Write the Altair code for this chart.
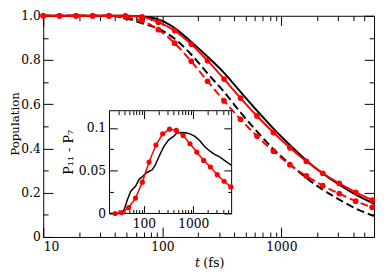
import altair as alt
import pandas as pd

# ---------------- data ----------------
t_red = [10, 13.7, 18.9, 26, 35.7, 49, 67.4, 92.6, 127, 175, 240, 330, 454, 624, 858,
         1179, 1620, 2227, 3061, 4207, 5781]
red_solid = [1.0, 1.0, 1.0, 1.0, 1.0, 1.0, 0.995, 0.971, 0.933, 0.872, 0.797, 0.714, 0.628,
             0.547, 0.472, 0.403, 0.342, 0.288, 0.242, 0.202, 0.167]
red_dashed = [1.0, 1.0, 1.0, 1.0, 1.0, 0.994, 0.977, 0.937, 0.876, 0.794, 0.704, 0.615, 0.532,
              0.456, 0.388, 0.327, 0.276, 0.232, 0.196, 0.162, 0.134]
t_black = [10, 13.7, 18.9, 26, 35.7, 49, 67.4, 92.6, 127, 175, 240, 330, 454, 624, 858,
           1179, 1620, 2227, 3061, 4207, 6000]
black_solid = [1.0, 1.0, 1.0, 1.0, 1.0, 1.0, 0.997, 0.984, 0.945, 0.882, 0.815, 0.742, 0.656,
               0.571, 0.490, 0.416, 0.346, 0.287, 0.236, 0.191, 0.150]
black_dashed = [1.0, 1.0, 1.0, 1.0, 1.0, 0.99, 0.966, 0.941, 0.896, 0.825, 0.739, 0.656, 0.563,
                0.477, 0.397, 0.329, 0.267, 0.214, 0.169, 0.129, 0.094]

t_inset_red = [26, 35.7, 49, 67.4, 92.6, 127, 175, 240, 330, 454, 624, 858, 1179, 1620,
               2227, 3061, 4207, 5781]
inset_red = [0.0, 0.001, 0.007, 0.018, 0.0366, 0.060, 0.080, 0.093, 0.0985, 0.097, 0.091,
             0.0814, 0.0717, 0.062, 0.0543, 0.0453, 0.0376, 0.031]
t_inset_black = [20, 35, 40, 46, 54, 68, 80, 93, 108, 126, 147, 171, 200, 252, 317, 399, 465,
                 585, 736, 858, 1080, 1359, 1710, 2153, 2710, 3412, 4295, 6000]
inset_black = [0, 0, 0.005, 0.016, 0.026, 0.032, 0.040, 0.043, 0.047, 0.049, 0.051, 0.057,
               0.066, 0.078, 0.086, 0.090, 0.094, 0.0945, 0.094, 0.093, 0.090, 0.085, 0.078,
               0.073, 0.069, 0.066, 0.062, 0.056]

main_x_major = [10, 100, 1000]
main_x_minor = [20, 30, 40, 50, 60, 70, 80, 90, 200, 300, 400, 500, 600, 700, 800, 900,
                2000, 3000, 4000, 5000]
main_y_major = [0, 0.2, 0.4, 0.6, 0.8, 1.0]
main_y_minor = [0.1, 0.3, 0.5, 0.7, 0.9]
inset_x_major = [100, 1000]
inset_x_minor = [30, 40, 50, 60, 70, 80, 90, 200, 300, 400, 500, 600, 700, 800, 900,
                 2000, 3000, 4000, 5000]
inset_y_major = [0, 0.05, 0.1]
inset_y_minor = [0.025, 0.075]
inset_frame = {"x": [20], "x2": [6000], "y": [0], "y2": [0.12]}

FONT = "DejaVu Serif"
LBL = 12.5
TTL = 13
W, H = 338, 226
RED = "#ff0000"

main_x = alt.Scale(type="log", domain=[10, 6000], nice=False)
main_y = alt.Scale(domain=[0, 1], nice=False)
ins_x = alt.Scale(type="log", domain=[20, 6000], nice=False, range=[67.7, 192.5])
ins_y = alt.Scale(domain=[0, 0.12], nice=False, range=[202, 97])


def axis(orient, values, size, offset, **kw):
    return alt.Axis(orient=orient, values=values, tickSize=size, offset=offset,
                    domain=False, grid=False, ticks=True, tickColor="black",
                    tickWidth=1, **kw)


YLAB = "datum.value == 0 ? '0' : format(datum.value, '.1f')"

# main axes
mx_bmaj = axis("bottom", main_x_major, 10, -10, labels=True, format="d", labelPadding=4)
mx_bmin = axis("bottom", main_x_minor, 5, -5, labels=False)
mx_tmaj = axis("top", main_x_major, 10, -10, labels=False)
mx_tmin = axis("top", main_x_minor, 5, -5, labels=False)
my_lmaj = axis("left", main_y_major, 10, -10, labels=True, labelExpr=YLAB,
               labelPadding=3, titleX=-39.5, titleY=110, titleAngle=270,
               titleBaseline="middle", titleAlign="center", titleFontSize=12)
my_lmin = axis("left", main_y_minor, 5, -5, labels=False)
my_rmaj = axis("right", main_y_major, 10, -10, labels=False)
my_rmin = axis("right", main_y_minor, 5, -5, labels=False)

# inset axes
ix_bmaj = axis("bottom", inset_x_major, 8, -32, labels=True, format="d", labelPadding=4)
ix_bmin = axis("bottom", inset_x_minor, 4, -28, labels=False)
ix_tmaj = axis("top", inset_x_major, 8, -105, labels=False)
ix_tmin = axis("top", inset_x_minor, 4, -101, labels=False)
iy_lmaj = axis("left", inset_y_major, 8, -75.7, labels=True,
               labelExpr="format(datum.value, '~g')", labelPadding=4,
               titleX=-50, titleY=139, titleAngle=270, titleBaseline="middle",
               titleAlign="center")
iy_lmin = axis("left", inset_y_minor, 4, -71.7, labels=False)
iy_rmaj = axis("right", inset_y_major, 8, -153.5, labels=False)
iy_rmin = axis("right", inset_y_minor, 4, -149.5, labels=False)

df_bs = pd.DataFrame({"t": t_black, "p": black_solid})
df_bd = pd.DataFrame({"t": t_black, "p": black_dashed})
df_rs = pd.DataFrame({"t": t_red, "p": red_solid})
df_rd = pd.DataFrame({"t": t_red, "p": red_dashed})
df_ir = pd.DataFrame({"t": t_inset_red, "p": inset_red})
df_ib = pd.DataFrame({"t": t_inset_black, "p": inset_black})
df_fr = pd.DataFrame(inset_frame)


def MX(ax):
    return alt.X("t:Q", scale=main_x, axis=ax, title=None)


def MY(ax, title=None):
    return alt.Y("p:Q", scale=main_y, axis=ax, title=title)


bs = alt.Chart(df_bs).mark_line(color="black", strokeWidth=2, interpolate="monotone").encode(
    x=MX(mx_bmaj), y=MY(my_lmaj, "Population"))
bd = alt.Chart(df_bd).mark_line(color="black", strokeWidth=2, interpolate="monotone",
                                strokeDash=[8, 4]).encode(x=MX(mx_bmin), y=MY(my_lmin))
rs = alt.Chart(df_rs).mark_line(color=RED, strokeWidth=2, interpolate="monotone").encode(
    x=MX(mx_tmaj), y=MY(my_rmaj))
rd = alt.Chart(df_rd).mark_line(color=RED, strokeWidth=2, interpolate="monotone",
                                strokeDash=[8, 4]).encode(x=MX(mx_tmin), y=MY(my_rmin))
rsp = alt.Chart(df_rs).mark_circle(color=RED, size=34, opacity=1).encode(
    x=MX(None), y=MY(None))
rdp = alt.Chart(df_rd).mark_circle(color=RED, size=34, opacity=1).encode(
    x=MX(None), y=MY(None))

main = alt.layer(bs, bd, rs, rd, rsp, rdp).resolve_axis(x="independent", y="independent")

frame = alt.Chart(df_fr).mark_rect(fillOpacity=0, stroke="black", strokeWidth=1).encode(
    x=alt.X("x:Q", scale=ins_x, axis=ix_tmin, title=None),
    x2="x2:Q",
    y=alt.Y("y:Q", scale=ins_y, axis=iy_rmin, title=None),
    y2="y2:Q")
ib = alt.Chart(df_ib).mark_line(color="black", strokeWidth=1.5).encode(
    x=alt.X("t:Q", scale=ins_x, axis=ix_bmaj, title=None),
    y=alt.Y("p:Q", scale=ins_y, axis=iy_lmaj, title="P\u2081\u2081 - P\u2087"))
ir = alt.Chart(df_ir).mark_line(color=RED, strokeWidth=1.5).encode(
    x=alt.X("t:Q", scale=ins_x, axis=ix_bmin, title=None),
    y=alt.Y("p:Q", scale=ins_y, axis=iy_lmin, title=None))
irp = alt.Chart(df_ir).mark_circle(color=RED, size=28, opacity=1).encode(
    x=alt.X("t:Q", scale=ins_x, axis=ix_tmaj, title=None),
    y=alt.Y("p:Q", scale=ins_y, axis=iy_rmaj, title=None))

inset = alt.layer(frame, ib, ir, irp).resolve_axis(x="independent", y="independent")

one = pd.DataFrame({"a": [0]})
txt_t = alt.Chart(one).mark_text(text="t", font=FONT, fontSize=TTL, fontStyle="italic",
                                 align="left", baseline="alphabetic", color="black").encode(
    x=alt.value(155), y=alt.value(257))
txt_fs = alt.Chart(one).mark_text(text="(fs)", font=FONT, fontSize=TTL, align="left",
                                  baseline="alphabetic", color="black").encode(
    x=alt.value(163.5), y=alt.value(257))

chart = alt.layer(main, inset, txt_t, txt_fs).resolve_scale(
    x="independent", y="independent"
).properties(
    width=W, height=H,
    autosize=alt.AutoSizeParams(type="none"),
    padding={"left": 36, "top": 5, "right": 2, "bottom": 40},
).configure_view(
    stroke="black", strokeWidth=1
).configure_axis(
    labelFont=FONT, labelFontSize=LBL, titleFont=FONT, titleFontSize=TTL,
    titleFontWeight="normal", labelColor="black", titleColor="black"
)

chart.save("out.html", embed_options={"renderer": "svg", "actions": False})
